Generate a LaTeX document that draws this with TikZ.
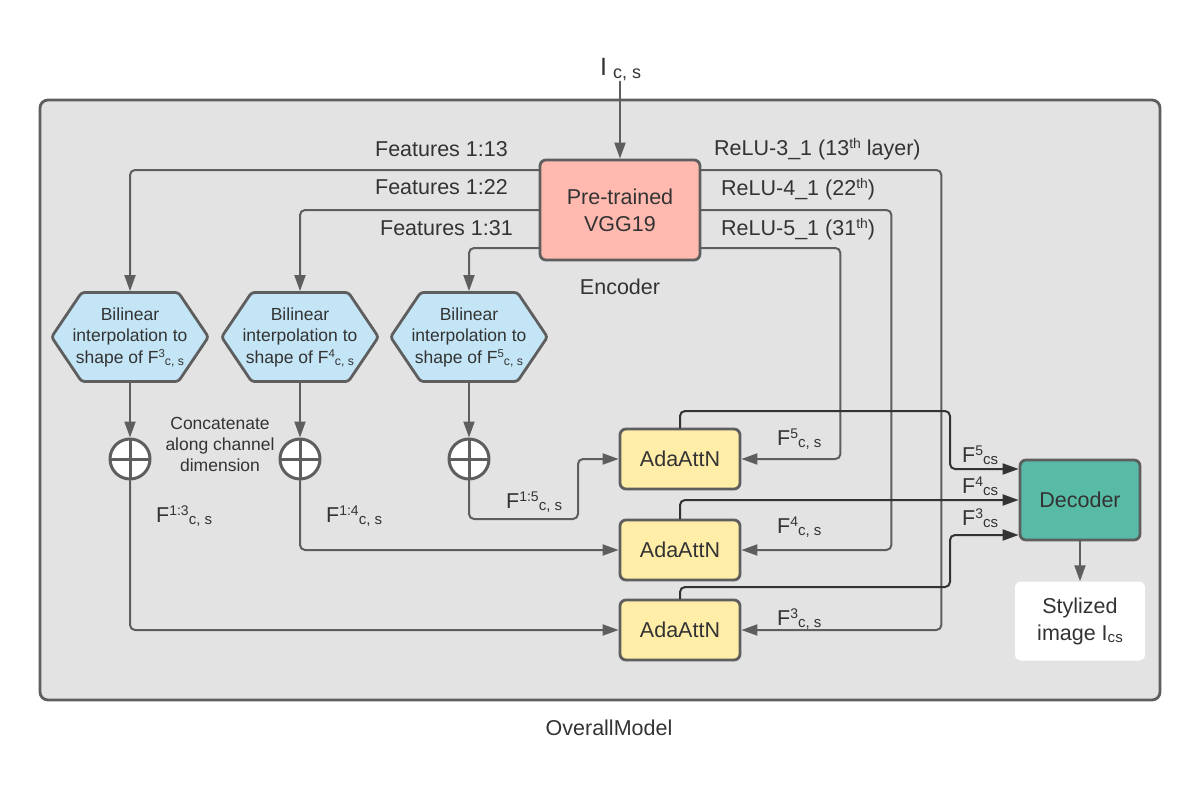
\documentclass[tikz,border=0pt]{standalone}
\usepackage{fontspec}
\setmainfont{Liberation Sans}
\usetikzlibrary{arrows.meta,shapes.symbols}
\definecolor{panelgray}{RGB}{227,227,227}
\definecolor{edgegray}{RGB}{94,94,94}
\definecolor{wiredark}{RGB}{51,51,51}
\definecolor{textgray}{RGB}{51,51,51}
\definecolor{vggpink}{RGB}{255,185,175}
\definecolor{interpblue}{RGB}{195,229,246}
\definecolor{attyellow}{RGB}{255,237,168}
\definecolor{decteal}{RGB}{87,187,166}
\newcommand{\fsup}[1]{\raisebox{.3em}{\scalebox{.65}{#1}}}
\newcommand{\fsub}[1]{\raisebox{-.12em}{\scalebox{.7}{#1}}}

\begin{document}
\begin{tikzpicture}[x=1pt,y=-1pt,line cap=round,line join=round,
    every node/.style={text=textgray,font=\fontsize{21.5}{27}\selectfont},
    block/.style={draw=edgegray,line width=2.8pt,rounded corners=6pt,align=center,inner sep=0pt},
    interp/.style={signal,signal to=west and east,signal pointer angle=112,draw=edgegray,fill=interpblue,
      line width=2.8pt,rounded corners=3pt,minimum height=89pt,inner xsep=-9pt,inner ysep=0pt,
      align=center,font=\fontsize{17.5}{21.5}\selectfont},
    concat/.style={circle,draw=edgegray,fill=white,line width=3pt,minimum size=40pt,inner sep=0pt,
      path picture={\draw[edgegray,line width=3pt] (path picture bounding box.north) -- (path picture bounding box.south)
        (path picture bounding box.west) -- (path picture bounding box.east);}},
    wire/.style={draw=edgegray,line width=2pt,rounded corners=5pt,-{Triangle[length=16pt,width=11pt]}},
    outwire/.style={wire,draw=wiredark},
    lbl/.style={anchor=base west,inner sep=0pt},
  ]
    \path[use as bounding box] (0,0) rectangle (1200,800);

    % frame
    \node[block,fill=panelgray,minimum width=1120pt,minimum height=600pt,rounded corners=8pt] (model) at (600,400) {};
    \node[anchor=base,inner sep=0pt] (modelname) at (609,735) {OverallModel};

    % encoder
    \node[lbl] (img) at (600,75) {{\fontsize{25}{25}\selectfont I}\hspace{6pt}\raisebox{-4pt}{\fontsize{18}{18}\selectfont c, s}};
    \node[block,fill=vggpink,minimum width=160pt,minimum height=100pt] (vgg) at (620,210) {Pre-trained\\VGG19};
    \node[anchor=base,inner sep=0pt] (enclabel) at (620,294) {Encoder};

    % interpolation
    \node[interp] (bi3) at (130,337) {Bilinear\\interpolation to\\shape of F\fsup{3}\fsub{c, s}};
    \node[interp] (bi4) at (300,337) {Bilinear\\interpolation to\\shape of F\fsup{4}\fsub{c, s}};
    \node[interp] (bi5) at (469,337) {Bilinear\\interpolation to\\shape of F\fsup{5}\fsub{c, s}};

    \node[concat] (cat3) at (130,459) {};
    \node[concat] (cat4) at (300,459) {};
    \node[concat] (cat5) at (469,459) {};
    \node[align=center,inner sep=0pt,font=\fontsize{17.5}{21}\selectfont] (catlabel) at (220,444) {Concatenate\\along channel\\dimension};

    % attention + decoder
    \node[block,fill=attyellow,minimum width=120pt,minimum height=60pt] (att5) at (680,459) {AdaAttN};
    \node[block,fill=attyellow,minimum width=120pt,minimum height=60pt] (att4) at (680,550) {AdaAttN};
    \node[block,fill=attyellow,minimum width=120pt,minimum height=60pt] (att3) at (680,630) {AdaAttN};
    \node[block,fill=decteal,minimum width=120pt,minimum height=80pt] (dec) at (1080,500) {Decoder};
    \node[fill=white,rounded corners=6pt,minimum width=130pt,minimum height=79pt,align=center,inner sep=0pt] (out) at (1080,621) {Stylized\\image I\fsub{cs}};

    \coordinate (bend5) at (578,519);
    \coordinate (hop5) at (950,411);
    \coordinate (hop3) at (950,587);

    \draw[wire] (img.south -| vgg.north) -- (vgg.north);

    \draw[wire] ([yshift=40pt]vgg.west) -| (bi3.north);
    \draw[wire] (vgg.west) -| (bi4.north);
    \draw[wire] ([yshift=-38pt]vgg.west) -| (bi5.north);

    \draw[wire] (bi3.south) -- (cat3.north);
    \draw[wire] (bi4.south) -- (cat4.north);
    \draw[wire] (bi5.south) -- (cat5.north);

    \draw[wire] (cat3.south) |- (att3.west);
    \draw[wire] (cat4.south) |- (att4.west);
    \draw[wire] (cat5.south) |- (bend5) |- (att5.west);

    \draw[wire] ([yshift=40pt]vgg.east) -- ++(240,0) |- (att3.east);
    \draw[wire] (vgg.east) -- ++(190,0) |- (att4.east);
    \draw[wire] ([yshift=-38pt]vgg.east) -- ++(139,0) |- (att5.east);

    \draw[outwire] (att5.north) |- (hop5) |- ([yshift=31pt]dec.west);
    \draw[outwire] (att4.north) |- (dec.west);
    \draw[outwire] (att3.north) |- (hop3) |- ([yshift=-35pt]dec.west);

    \draw[wire] (dec.south) -- (out.north);

    % labels
    \node[anchor=base east,inner sep=0pt] (feat13) at (508,156) {Features 1:13};
    \node[anchor=base east,inner sep=0pt] (feat22) at (508,194) {Features 1:22};
    \node[anchor=base east,inner sep=0pt] (feat31) at (513,235) {Features 1:31};
    \node[lbl] (relu3) at (714,155) {ReLU-3\_1 (13\fsup{th} layer)};
    \node[lbl] (relu4) at (721,195) {ReLU-4\_1 (22\fsup{th})};
    \node[lbl] (relu5) at (721,235) {ReLU-5\_1 (31\fsup{th})};

    \node[lbl] (f13) at (156,522) {F\fsup{1:3}\fsub{c, s}};
    \node[lbl] (f14) at (326,522) {F\fsup{1:4}\fsub{c, s}};
    \node[lbl] (f15) at (506,508) {F\fsup{1:5}\fsub{c, s}};
    \node[lbl] (f5) at (777,445) {F\fsup{5}\fsub{c, s}};
    \node[lbl] (f4) at (777,533) {F\fsup{4}\fsub{c, s}};
    \node[lbl] (f3) at (777,625) {F\fsup{3}\fsub{c, s}};
    \node[lbl] (g5) at (962,462) {F\fsup{5}\fsub{cs}};
    \node[lbl] (g4) at (962,493) {F\fsup{4}\fsub{cs}};
    \node[lbl] (g3) at (962,525) {F\fsup{3}\fsub{cs}};
\end{tikzpicture}
\end{document}
